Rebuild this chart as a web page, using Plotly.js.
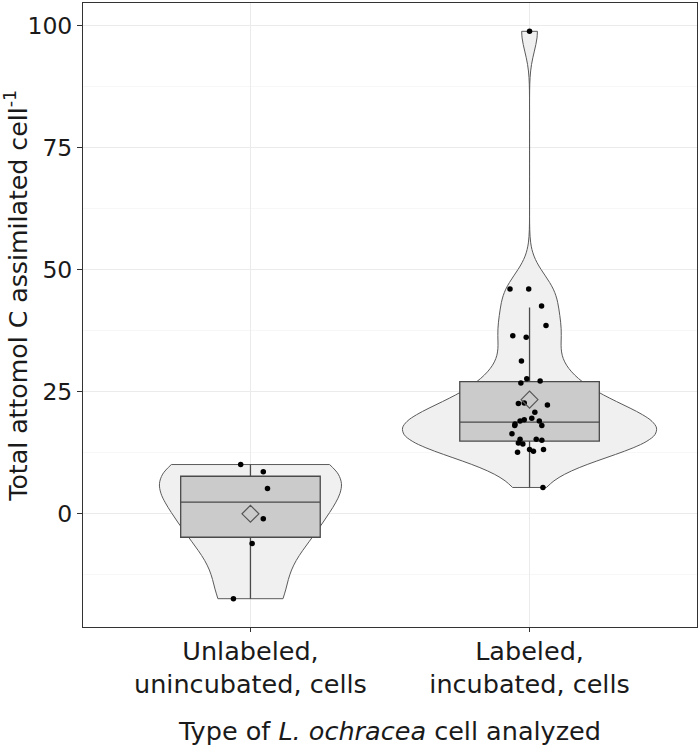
<!DOCTYPE html>
<html>
<head>
<meta charset="utf-8">
<script src="https://cdn.plot.ly/plotly-3.0.1.min.js"></script>
<style>html,body{margin:0;padding:0;background:#fff;}#chart{width:700px;height:749px;}</style>
</head>
<body>
<div id="chart"></div>
<script>
// ---- categories / tick labels ----
const categoryPositions = [1, 2];
const categoryLabels = ["Unlabeled,<br>unincubated, cells", "Labeled,<br>incubated, cells"];
const xTitle = "Type of <i>L. ochracea</i> cell analyzed";
const yTitle = "Total attomol C assimilated cell<sup>-1</sup>";

// ---- per-cell values (attomol C per cell) ----
const unlabeledValues = [10.1, 8.6, 5.2, -1.0, -6.1, -17.4];
const unlabeledJitter = [-0.035, 0.046, 0.061, 0.046, 0.006, -0.061];

const labeledValues = [46.1, 46.1, 42.6, 38.6, 36.5, 36.2, 31.3, 26.8, 27.7, 27.2,
  22.6, 22.7, 22.3, 20.8, 19.6, 19.3, 19.0, 18.4, 18.1, 19.0,
  18.1, 16.4, 15.3, 14.3, 14.5, 15.3, 15.1, 13.2, 12.8, 13.2,
  12.6, 5.4, 98.9];
const labeledJitter = [-0.070, -0.003, 0.043, 0.059, -0.060, -0.012, -0.029, -0.031, -0.010, 0.038,
  -0.040, -0.019, 0.064, 0.019, 0.008, -0.019, -0.034, -0.052, -0.053, 0.035,
  0.044, -0.063, -0.034, -0.024, -0.040, 0.024, 0.044, 0.000, 0.014, 0.050,
  -0.043, 0.048, 0.000];

// ---- box-plot statistics ----
const boxQ1 = [-4.8, 14.9];
const boxMedian = [2.4, 18.8];
const boxQ3 = [7.7, 27.1];
const boxLower = [-17.4, 5.4];
const boxUpper = [10.1, 42.3];
const groupMeans = [0.0, 23.4];

const FONT = "DejaVu Sans, sans-serif";
const TXT = "#1a1a1a";

const groups = [
  {pos: categoryPositions[0], vals: unlabeledValues, jit: unlabeledJitter, bw: 5.9, w: 0.652},
  {pos: categoryPositions[1], vals: labeledValues, jit: labeledJitter, bw: 4.1, w: 0.91}
];

const traces = [];
groups.forEach((g, i) => {
  traces.push({
    type: "violin",
    x: g.vals.map(() => g.pos),
    y: g.vals,
    width: g.w,
    bandwidth: g.bw,
    spanmode: "hard",
    points: false,
    box: {visible: false},
    meanline: {visible: false},
    fillcolor: "#f0f0f0",
    line: {color: "#5a5a5a", width: 1},
    scalegroup: "g" + i,
    showlegend: false,
    hoverinfo: "skip"
  });
});
groups.forEach((g, i) => {
  traces.push({
    type: "box",
    x: [g.pos],
    q1: [boxQ1[i]],
    median: [boxMedian[i]],
    q3: [boxQ3[i]],
    lowerfence: [boxLower[i]],
    upperfence: [boxUpper[i]],
    width: 0.5,
    whiskerwidth: 0,
    boxpoints: false,
    fillcolor: "#cbcbcb",
    line: {color: "#4a4a4a", width: 1.3},
    showlegend: false,
    hoverinfo: "skip"
  });
});
groups.forEach((g) => {
  traces.push({
    type: "scatter",
    mode: "markers",
    x: g.vals.map((v, k) => g.pos + g.jit[k]),
    y: g.vals,
    marker: {color: "#000", size: 5.5},
    showlegend: false,
    hoverinfo: "skip"
  });
});
traces.push({
  type: "scatter",
  mode: "markers",
  x: categoryPositions,
  y: groupMeans,
  marker: {symbol: "diamond-open", color: "#555", size: 13, line: {width: 1.2, color: "#555"}},
  showlegend: false,
  hoverinfo: "skip"
});

const layout = {
  width: 700,
  height: 749,
  margin: {l: 83, r: 3, t: 3, b: 122, pad: 0},
  paper_bgcolor: "#fff",
  plot_bgcolor: "#fff",
  font: {family: FONT, color: TXT},
  violinmode: "overlay",
  boxmode: "overlay",
  showlegend: false,
  xaxis: {
    range: [0.4, 2.6],
    tickmode: "array",
    tickvals: categoryPositions,
    ticktext: categoryLabels,
    tickfont: {size: 25.5, color: TXT, family: FONT},
    ticks: "outside",
    ticklen: 4,
    tickcolor: "#333",
    ticklabelstandoff: -3,
    showgrid: true,
    gridcolor: "#ebebeb",
    gridwidth: 1,
    zeroline: false,
    showline: true,
    mirror: true,
    linecolor: "#333",
    linewidth: 1,
    title: {text: xTitle, font: {size: 25.5, color: TXT, family: FONT}, standoff: 24}
  },
  yaxis: {
    range: [-23.2, 104.7],
    tick0: 0,
    dtick: 25,
    tickfont: {size: 23.5, color: TXT, family: FONT},
    ticks: "outside",
    ticklen: 5,
    tickcolor: "#333",
    showgrid: true,
    gridcolor: "#ebebeb",
    gridwidth: 1,
    minor: {tick0: 0, dtick: 12.5, showgrid: true, gridcolor: "#f4f4f4", gridwidth: 0.7, ticks: ""},
    zeroline: false,
    showline: true,
    mirror: true,
    linecolor: "#333",
    linewidth: 1,
    title: {text: ""}
  },
  annotations: [{
    text: yTitle,
    xref: "paper", yref: "paper",
    x: 0, y: 0.531,
    xanchor: "center", yanchor: "middle",
    xshift: -66,
    textangle: -90,
    showarrow: false,
    font: {size: 25.2, color: TXT, family: FONT}
  }]
};

Plotly.newPlot("chart", traces, layout, {staticPlot: true, displayModeBar: false});
</script>
</body>
</html>
